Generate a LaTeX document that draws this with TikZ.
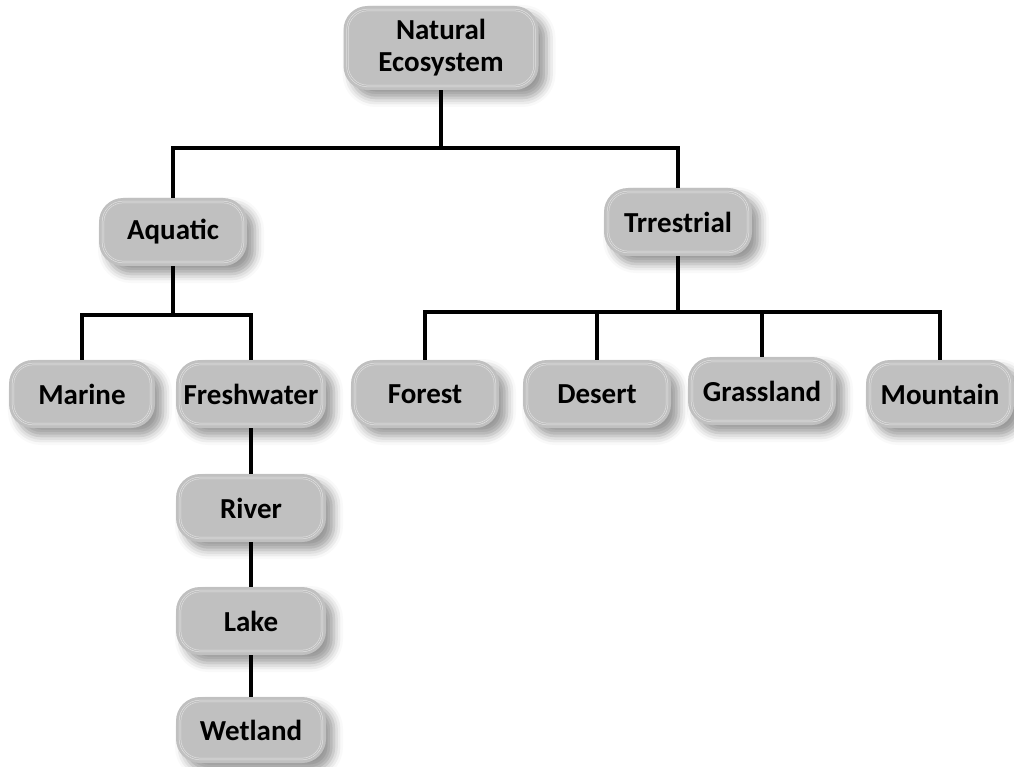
\documentclass[tikz,border=0pt]{standalone}
\usepackage{fontspec}
\setmainfont{Carlito}
\usetikzlibrary{shadows.blur}

\definecolor{boxgray}{RGB}{192,192,192}
\definecolor{boxline}{RGB}{230,230,230}

\tikzset{
    ecobox/.style={rounded corners=24pt, fill=boxgray, align=center,
        minimum width=148pt, minimum height=68pt, inner sep=0pt,
        font=\fontsize{29}{32}\selectfont\bfseries,
        blur shadow={shadow xshift=8pt, shadow yshift=-8pt,
            shadow blur radius=9pt, shadow opacity=40},
        path picture={\draw[boxline, line width=0.5pt, double=boxgray,
            double distance=1.2pt, rounded corners=20pt]
            ([shift={(4pt,4pt)}]path picture bounding box.south west) rectangle
            ([shift={(-4pt,-4pt)}]path picture bounding box.north east);}},
    link/.style={line width=3.2pt, black}
}

\begin{document}
\begin{tikzpicture}[x=1pt, y=-1pt]
        \useasboundingbox (0,0) rectangle (1014,767);

        % === ROOT ===
        \node[ecobox, minimum width=195pt, minimum height=84pt] (nat) at (441,48) {Natural\\Ecosystem};

        % === SECOND LEVEL ===
        \node[ecobox] (aqu) at (173,232) {Aquatic};
        \node[ecobox] (ter) at (678,222) {Trrestrial};

        % === AQUATIC BRANCH ===
        \node[ecobox, minimum width=146pt] (mar) at (82,394) {Marine};
        \node[ecobox, minimum width=150pt] (fre) at (251,394) {Freshwater};
        \node[ecobox, minimum width=150pt] (riv) at (251,508) {River};
        \node[ecobox, minimum width=150pt] (lak) at (251,621) {Lake};
        \node[ecobox, minimum width=150pt, minimum height=66pt] (wet) at (251,730) {Wetland};

        % === TERRESTRIAL BRANCH ===
        \node[ecobox] (for) at (425,394) {Forest};
        \node[ecobox] (des) at (597,394) {Desert};
        \node[ecobox] (gra) at (762,391) {Grassland};
        \node[ecobox] (mou) at (940,394) {Mountain};

        % === CONNECTORS ===
        \coordinate (b1) at (441,148);
        \coordinate (b2) at (173,315);
        \coordinate (b3) at (678,312);

        \draw[link] (nat.south) -- (b1);
        \draw[link] (aqu.north) |- (b1) -| (ter.north);

        \draw[link] (aqu.south) -- (b2);
        \draw[link] (mar.north) |- (b2) -| (fre.north);
        \draw[link] (fre.south) -- (riv.north);
        \draw[link] (riv.south) -- (lak.north);
        \draw[link] (lak.south) -- (wet.north);

        \draw[link] (ter.south) -- (b3);
        \draw[link] (for.north) |- (b3) -| (mou.north);
        \draw[link] (des.north) -- (des.north |- b3);
        \draw[link] (gra.north) -- (gra.north |- b3);

    \end{tikzpicture}
\end{document}
